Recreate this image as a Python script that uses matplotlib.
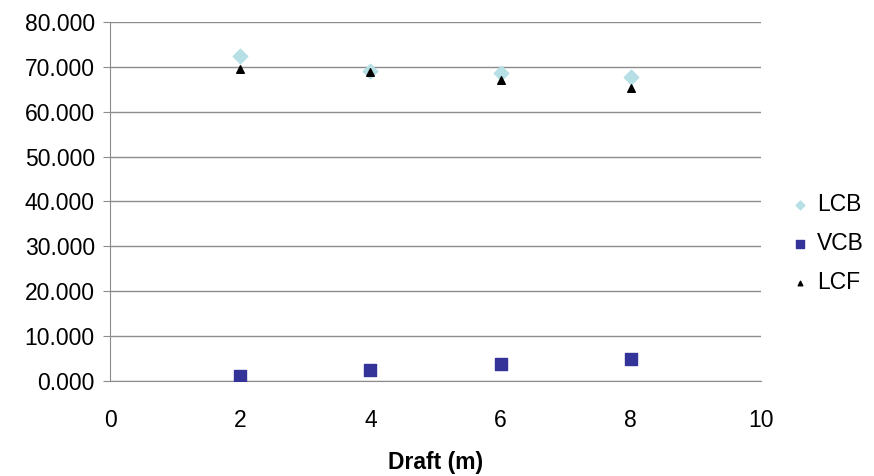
import matplotlib.pyplot as plt

plt.rcParams['font.family'] = ['Liberation Sans', 'DejaVu Sans']

# Data
draft = [2, 4, 6, 8]
lcb = [72.4, 69.0, 68.7, 67.8]
vcb = [1.1, 2.4, 3.7, 4.9]
lcf = [69.6, 68.9, 67.0, 65.3]

fig = plt.figure(figsize=(8.74, 4.76), dpi=100)
ax = fig.add_axes([0.1259, 0.1996, 0.7449, 0.7542])

ax.scatter(draft, lcb, marker='D', s=55, color='#b7dfe6', label='LCB', zorder=3)
ax.scatter(draft, vcb, marker='s', s=75, color='#333399', label='VCB', zorder=3)
ax.scatter(draft, lcf, marker='^', s=30, color='black', label='LCF', zorder=3)

ax.set_xlim(0, 10)
ax.set_ylim(0, 80)
ax.set_xticks(range(0, 11, 2))
ax.set_yticks(range(0, 81, 10))
ax.set_yticklabels([f'{v:.3f}' for v in range(0, 81, 10)])
ax.yaxis.grid(True, color='#8c8c8c', linewidth=1)
ax.set_axisbelow(True)

for s in ['top', 'right']:
    ax.spines[s].set_visible(False)
for s in ['left', 'bottom']:
    ax.spines[s].set_color('#8c8c8c')
ax.tick_params(axis='both', colors='#8c8c8c', labelcolor='black', labelsize=16.5, length=5)
ax.tick_params(axis='x', length=0, pad=20)
ax.tick_params(axis='y', pad=6)

ax.set_xlabel('Draft (m)', fontsize=16.5, fontweight='bold', labelpad=14)

ax.legend(loc='center left', bbox_to_anchor=(1.0, 0.384), frameon=False, fontsize=16.5,
          handletextpad=0.25, labelspacing=0.7, markerscale=0.6, handlelength=1.0,
          borderaxespad=0.8)

fig.savefig('out.png', dpi=100)
